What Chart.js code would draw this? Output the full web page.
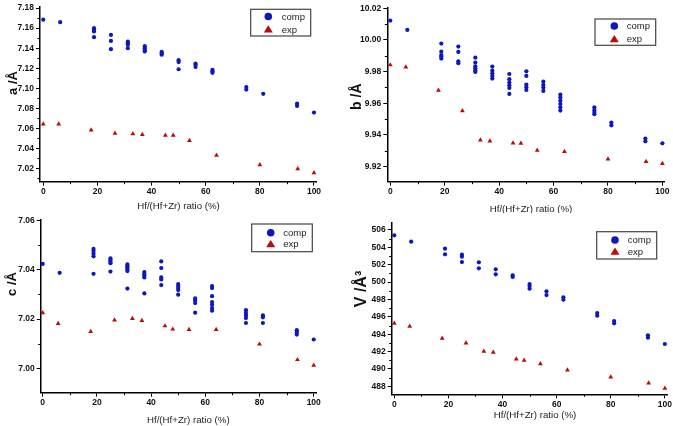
<!DOCTYPE html>
<html>
<head>
<meta charset="utf-8">
<script src="https://cdn.jsdelivr.net/npm/chart.js@4/dist/chart.umd.min.js"></script>
<style>
  body { margin: 0; background: #fff; }
  #wrap { position: relative; width: 673px; height: 426px; overflow: hidden; }
  canvas { position: absolute; }
</style>
</head>
<body>
<div id="wrap">
  <canvas id="chartA" width="336" height="213" style="left:0;top:0"></canvas>
  <canvas id="chartB" width="337" height="213" style="left:336px;top:0"></canvas>
  <canvas id="chartC" width="336" height="213" style="left:0;top:213px"></canvas>
  <canvas id="chartD" width="337" height="213" style="left:336px;top:213px"></canvas>
</div>
<script>
// Hf/(Hf+Zr) ratio (%) of the computed structures, one group of values per ratio
const xGroups = [0, 6.25, 18.75, 25, 31.25, 37.5, 43.75, 50, 56.25, 62.5, 75, 81.25, 93.75, 100]
// ratios of the experimental samples
const expX = [0, 5.7, 17.7, 26.5, 33.1, 36.6, 45.1, 48.0, 54.0, 64.0, 80.0, 94.0, 100]

const xTicks = [0, 20, 40, 60, 80, 100]

// a /Å
const aComp = [
  [7.1685], [7.166], [7.160, 7.1587, 7.1567, 7.151], [7.1532, 7.1473, 7.139],
  [7.1466, 7.145, 7.1436, 7.140], [7.142, 7.140, 7.138, 7.1367], [7.1364, 7.135, 7.1335],
  [7.128, 7.1262, 7.119], [7.1247, 7.1233, 7.1213], [7.1184, 7.117, 7.1154],
  [7.1013, 7.0987], [7.0945], [7.0846, 7.0824], [7.0758]
]
const aExp = [7.0643, 7.0643, 7.0584, 7.0551, 7.0545, 7.0538, 7.0531, 7.0531, 7.0479, 7.0332, 7.0236, 7.0197, 7.0157]
const aTicks = [7.02, 7.04, 7.06, 7.08, 7.10, 7.12, 7.14, 7.16, 7.18]

// b /Å
const bComp = [
  [10.0122], [10.0063], [9.9977, 9.9926, 9.9905, 9.9895, 9.9882], [9.9958, 9.9924, 9.9865, 9.9853],
  [9.9888, 9.9857, 9.9834, 9.9821, 9.9808, 9.9798], [9.9832, 9.9806, 9.9789, 9.9773, 9.9756],
  [9.9785, 9.9752, 9.9731, 9.9714, 9.9697, 9.9659], [9.9802, 9.9773, 9.9718, 9.9701, 9.9684],
  [9.9737, 9.9716, 9.9699, 9.9678], [9.9655, 9.9638, 9.9617, 9.9596, 9.9575, 9.9554],
  [9.9575, 9.9558, 9.9545, 9.9531], [9.9478, 9.9461], [9.9377, 9.936], [9.9347]
]
const bExp = [9.9842, 9.9829, 9.9682, 9.9552, 9.9368, 9.9362, 9.9349, 9.9347, 9.9303, 9.9295, 9.9248, 9.9232, 9.9219]
const bTicks = [9.92, 9.94, 9.96, 9.98, 10.00, 10.02]

// c /Å
const cComp = [
  [7.0424], [7.0388], [7.0485, 7.0476, 7.0466, 7.0455, 7.0384], [7.0447, 7.0440, 7.0434, 7.0427, 7.0393],
  [7.0422, 7.0415, 7.0408, 7.0401, 7.0395, 7.0324], [7.0391, 7.0384, 7.0377, 7.0369, 7.0304],
  [7.0434, 7.0407, 7.0369, 7.0361, 7.0338], [7.0342, 7.0334, 7.0326, 7.0318, 7.0299],
  [7.0284, 7.0275, 7.0265, 7.0226], [7.0334, 7.0326, 7.0293, 7.0269, 7.0258, 7.0245, 7.0234],
  [7.0236, 7.0225, 7.0215, 7.0204, 7.0184], [7.0215, 7.0207, 7.0184], [7.0155, 7.0147, 7.0137], [7.0117]
]
const cExp = [7.0225, 7.0182, 7.0149, 7.0196, 7.0202, 7.0194, 7.0172, 7.0159, 7.0157, 7.0157, 7.0098, 7.0035, 7.0012]
const cTicks = [7.00, 7.02, 7.04, 7.06]

// V /Å3
const dComp = [
  [505.39], [504.66], [503.85, 503.2], [503.16, 502.93, 502.31], [502.28, 501.59],
  [501.47, 500.89], [500.78, 500.59], [499.78, 499.55, 499.24], [498.94, 498.51],
  [498.25, 497.98], [496.44, 496.13], [495.52, 495.25], [493.87, 493.6], [492.87]
]
const dExp = [495.25, 494.9, 493.52, 492.99, 492.03, 491.91, 491.14, 490.99, 490.6, 489.88, 489.07, 488.38, 487.77]
const dTicks = [488, 490, 492, 494, 496, 498, 500, 502, 504, 506]

const BLUE = 'rgb(12,24,190)'
const RED = 'rgb(185,12,12)'
const FONT = '"Liberation Sans", Arial, sans-serif'

function compPoints(groups) {
  const pts = []
  groups.forEach((vals, i) => vals.forEach(v => pts.push({ x: xGroups[i], y: v })))
  return pts
}
function expPoints(vals) {
  return vals.map((v, i) => ({ x: expX[i], y: v }))
}

// minor ticks, axis titles and the boxed legend
const panelDeco = {
  id: 'panelDeco',
  afterDraw(chart, args, o) {
    const ctx = chart.ctx
    const xs = chart.scales.x, ys = chart.scales.y
    ctx.save()
    ctx.strokeStyle = '#000'
    ctx.lineWidth = 1
    const minors = (sc) => {
      const t = sc.ticks.map(k => k.value)
      const step = t[1] - t[0]
      const out = []
      for (let i = -1; i < t.length; i++) {
        const v = t[0] + step * (i + 0.5)
        if (v >= sc.min && v <= sc.max) out.push(v)
      }
      return out
    }
    minors(xs).forEach(v => {
      const p = Math.round(xs.getPixelForValue(v)) + 0.5
      ctx.beginPath(); ctx.moveTo(p, xs.top); ctx.lineTo(p, xs.top + 2.5); ctx.stroke()
    })
    minors(ys).forEach(v => {
      const p = Math.round(ys.getPixelForValue(v)) + 0.5
      ctx.beginPath(); ctx.moveTo(ys.right, p); ctx.lineTo(ys.right - 2.5, p); ctx.stroke()
    })

    // y title
    ctx.fillStyle = '#111'
    ctx.textAlign = 'center'
    ctx.textBaseline = 'middle'
    ctx.save()
    ctx.translate(o.yTitle.x, o.yTitle.y)
    ctx.rotate(-Math.PI / 2)
    ctx.font = 'bold ' + o.yTitle.size + 'px ' + FONT
    ctx.fillText(o.yTitle.text, 0, 0)
    ctx.restore()
    // x title
    ctx.fillStyle = '#222'
    ctx.font = '9.7px ' + FONT
    ctx.fillText(o.xTitle.text, o.xTitle.x, o.xTitle.y)

    // legend
    const L = o.legend
    ctx.strokeStyle = '#444'
    ctx.lineWidth = 1.2
    ctx.strokeRect(L.x, L.y, L.w, L.h)
    chart.data.datasets.forEach((ds, i) => {
      const cy = L.rows[i]
      ctx.fillStyle = ds.backgroundColor
      ctx.beginPath()
      if (ds.pointStyle === 'triangle') {
        ctx.moveTo(L.mx, cy - 4.2)
        ctx.lineTo(L.mx + 4.5, cy + 3)
        ctx.lineTo(L.mx - 4.5, cy + 3)
        ctx.closePath()
      } else {
        ctx.arc(L.mx, cy, 3.8, 0, Math.PI * 2)
      }
      ctx.fill()
      ctx.fillStyle = '#222'
      ctx.textAlign = 'left'
      ctx.font = '9.5px ' + FONT
      ctx.fillText(ds.label, L.tx, cy + 0.5)
    })
    ctx.restore()
  }
}

function makePanel(id, comp, exp, yTicks, decimals, lay) {
  new Chart(document.getElementById(id), {
    type: 'scatter',
    data: {
      datasets: [
        { label: 'comp', data: compPoints(comp), backgroundColor: BLUE, borderColor: BLUE,
          pointStyle: 'circle', pointRadius: 2.1, borderWidth: 0, clip: false },
        { label: 'exp', data: expPoints(exp), backgroundColor: RED, borderColor: RED,
          pointStyle: 'triangle', pointRadius: 2.8, borderWidth: 0, clip: false }
      ]
    },
    options: {
      responsive: false,
      animation: false,
      devicePixelRatio: 1,
      layout: { padding: { left: 0, top: lay.top, right: lay.right, bottom: 0 } },
      plugins: {
        legend: { display: false },
        tooltip: { enabled: false },
        panelDeco: lay.deco
      },
      scales: {
        x: {
          type: 'linear', min: lay.xMin, max: lay.xMax,
          afterBuildTicks: s => { s.ticks = xTicks.map(v => ({ value: v })) },
          afterFit: s => { s.height = lay.xH },
          grid: { drawOnChartArea: false, drawTicks: true, tickLength: 4, color: '#000', tickColor: '#000' },
          border: { display: true, color: '#000', width: 1.5 },
          ticks: { padding: 1, color: '#111', font: { family: FONT, size: 8.5, weight: 'bold' },
                   maxRotation: 0, autoSkip: false, callback: v => String(v) }
        },
        y: {
          type: 'linear', min: lay.yMin, max: lay.yMax,
          afterBuildTicks: s => { s.ticks = yTicks.map(v => ({ value: v })) },
          afterFit: s => { s.width = lay.yW },
          grid: { drawOnChartArea: false, drawTicks: true, tickLength: 4, color: '#000', tickColor: '#000' },
          border: { display: true, color: '#000', width: 1.5 },
          ticks: { padding: 2, color: '#111', font: { family: FONT, size: 8.5, weight: 'bold' },
                   autoSkip: false, callback: v => Number(v).toFixed(decimals) }
        }
      }
    },
    plugins: [panelDeco]
  })
}

const xLabel = 'Hf/(Hf+Zr) ratio (%)'

makePanel('chartA', aComp, aExp, aTicks, 2, {
  top: 4, right: 19.3, yW: 40, xH: 31.3,
  xMin: -1.2, xMax: 101, yMin: 7.0068, yMax: 7.181,
  deco: {
    yTitle: { text: 'a /Å', x: 13, y: 83, size: 13 },
    xTitle: { text: xLabel, x: 178.5, y: 206 },
    legend: { x: 250.7, y: 9.3, w: 60, h: 26.7, mx: 268.3, tx: 281.7, rows: [16.5, 29.5] }
  }
})

makePanel('chartB', bComp, bExp, bTicks, 2, {
  top: 7.3, right: 8.7, yW: 51.3, xH: 31.3,
  xMin: -1.1, xMax: 100.7, yMin: 9.9105, yMax: 10.0206,
  deco: {
    yTitle: { text: 'b /Å', x: 20.7, y: 96.7, size: 14 },
    xTitle: { text: xLabel, x: 195, y: 209 },
    legend: { x: 259, y: 19, w: 60.7, h: 26.3, mx: 278.3, tx: 290.7, rows: [26, 39.3] }
  }
})

makePanel('chartC', cComp, cExp, cTicks, 2, {
  top: 6.5, right: 19.3, yW: 40.7, xH: 33.3,
  xMin: -0.74, xMax: 101.1, yMin: 6.9901, yMax: 7.0602,
  deco: {
    yTitle: { text: 'c /Å', x: 12.8, y: 71, size: 13 },
    xTitle: { text: xLabel, x: 188.3, y: 207 },
    legend: { x: 251.7, y: 11, w: 60.6, h: 27.7, mx: 270.7, tx: 283.3, rows: [19.7, 31.3] }
  }
})

makePanel('chartD', dComp, dExp, dTicks, 0, {
  top: 9.7, right: 5, yW: 55.7, xH: 31.7,
  xMin: -0.96, xMax: 101.1, yMin: 487.08, yMax: 506.84,
  deco: {
    yTitle: { text: 'V /Å³', x: 26, y: 76, size: 16 },
    xTitle: { text: xLabel, x: 199, y: 202 },
    legend: { x: 260.7, y: 18.7, w: 60, h: 27.3, mx: 279, tx: 291.7, rows: [27, 38.7] }
  }
})
</script>
</body>
</html>
